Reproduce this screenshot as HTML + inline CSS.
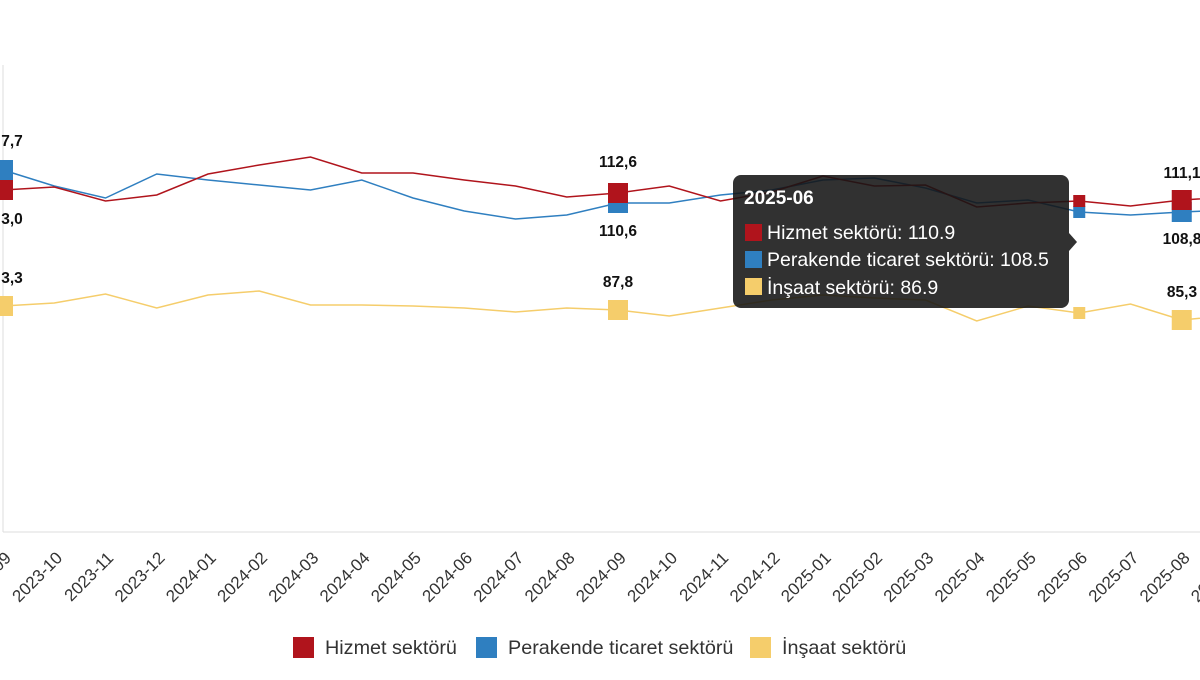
<!DOCTYPE html>
<html><head><meta charset="utf-8"><style>
body{margin:0;background:#fff;width:1200px;height:675px;overflow:hidden;font-family:"Liberation Sans",sans-serif}
</style></head><body>
<svg width="1200" height="675" xmlns="http://www.w3.org/2000/svg" font-family="Liberation Sans, sans-serif">
<line x1="3" y1="65" x2="3" y2="532" stroke="#ddd"/>
<line x1="3" y1="532" x2="1200" y2="532" stroke="#ddd"/>
<g id="lines" fill="none" stroke-width="1.5"></g>
<g id="labels" font-size="17" fill="#333" text-anchor="end"></g>
<g font-size="15.5" font-weight="bold" fill="#111" text-anchor="middle">
<text x="12" y="146">7,7</text><text x="12" y="224">3,0</text><text x="12" y="283">3,3</text>
<text x="618" y="167">112,6</text><text x="618" y="236">110,6</text><text x="618" y="287">87,8</text>
<text x="1182" y="178">111,1</text><text x="1182" y="244">108,8</text><text x="1182" y="297">85,3</text>
</g>
<g font-size="19.8" fill="#333">
<rect x="293" y="637" width="21" height="21" fill="#b0141c"/><text x="325" y="654">Hizmet sektörü</text>
<rect x="476" y="637" width="21" height="21" fill="#2f7fc0"/><text x="508" y="654">Perakende ticaret sektörü</text>
<rect x="750" y="637" width="21" height="21" fill="#f5cd6b"/><text x="782" y="654">İnşaat sektörü</text>
</g>
<g id="tt">
<rect x="733" y="175" width="336" height="133" rx="8" fill="rgba(20,20,20,0.88)"/>
<polygon points="1069,233 1077,242 1069,251" fill="rgba(20,20,20,0.88)"/>
<text x="744" y="204" font-size="19" font-weight="bold" fill="#fff">2025-06</text>
<rect x="745" y="224" width="17" height="17" fill="#b0141c"/><text x="767" y="239" font-size="19.5" fill="#fff">Hizmet sektörü: 110.9</text>
<rect x="745" y="251" width="17" height="17" fill="#2f7fc0"/><text x="767" y="266" font-size="19.5" fill="#fff">Perakende ticaret sektörü: 108.5</text>
<rect x="745" y="278" width="17" height="17" fill="#f5cd6b"/><text x="767" y="294" font-size="19.5" fill="#fff">İnşaat sektörü: 86.9</text>
</g>
</svg>
<script>
var R=[190,187,201,195,174,165,157,173,173,180,186,197,193,186,201,192,176,186,185,207,203,201,206,200,197];
var B=[170,186,198,174,180,185,190,180,198,211,219,215,203,203,195,190,180,178,188,203,200,212,215,212,210];
var Y=[306,303,294,308,295,291,305,305,306,308,312,308,310,316,308,300,295,298,300,321,306,313,304,320,315];
var ns="http://www.w3.org/2000/svg",L=document.getElementById('lines'),T=document.getElementById('labels');
function X(i){return 3+51.25*i}
[[Y,'#f5cd6b'],[B,'#2f7fc0'],[R,'#b0141c']].forEach(function(s){
 var p=document.createElementNS(ns,'polyline');p.setAttribute('points',s[0].map(function(v,i){return X(i)+','+v}).join(' '));p.setAttribute('stroke',s[1]);L.appendChild(p);
 [0,12,23].forEach(function(i){var r=document.createElementNS(ns,'rect');r.setAttribute('x',X(i)-10);r.setAttribute('y',s[0][i]-10);r.setAttribute('width',20);r.setAttribute('height',20);r.setAttribute('fill',s[1]);L.appendChild(r);});
 var r=document.createElementNS(ns,'rect');r.setAttribute('x',X(21)-6);r.setAttribute('y',s[0][21]-6);r.setAttribute('width',12);r.setAttribute('height',12);r.setAttribute('fill',s[1]);L.appendChild(r);
});
for(var i=0;i<25;i++){var y=2023+Math.floor((8+i)/12),m=(8+i)%12+1;var t=document.createElementNS(ns,'text');t.textContent=y+'-'+(m<10?'0':'')+m;var x=X(i)+9;t.setAttribute('transform','translate('+x+',559) rotate(-45)');T.appendChild(t);}
</script>
</body></html>
